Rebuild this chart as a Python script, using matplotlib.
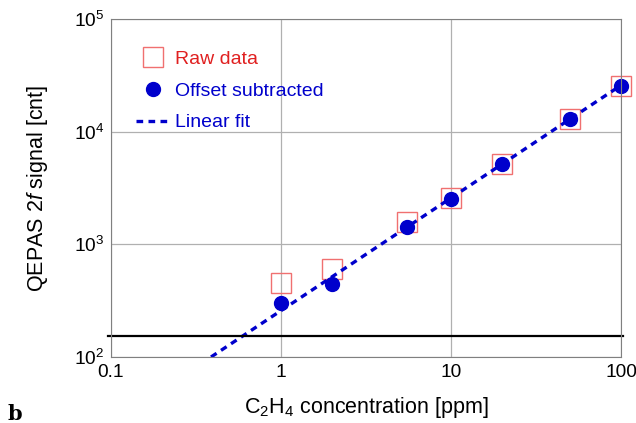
import numpy as np
import matplotlib
matplotlib.use("Agg")
import matplotlib.pyplot as plt
from matplotlib.ticker import FixedLocator, FixedFormatter, NullLocator

plt.rcParams['font.family'] = ['Liberation Sans', 'DejaVu Sans']
plt.rcParams['mathtext.fontset'] = 'custom'
plt.rcParams['mathtext.rm'] = 'Liberation Sans'
plt.rcParams['mathtext.it'] = 'Liberation Sans:italic'

# data
conc = [1, 2, 5.5, 10, 20, 50, 100]
raw = [454, 604, 1578, 2600, 5200, 13000, 25400]
offset_sub = [301, 444, 1424, 2522, 5160, 12940, 25400]
fit_slope = 258.0
noise_level = 153

fig = plt.figure(figsize=(6.36, 4.23), dpi=100)
ax = fig.add_axes([111/636, 1-357/423, 510/636, 338/423])
ax.set_xscale("log")
ax.set_yscale("log")
ax.set_xlim(0.1, 100)
ax.set_ylim(1e2, 1e5)

ax.grid(True, which="major", color="#b0b0b0", lw=0.9)
ax.set_axisbelow(True)

xfit = np.array([0.1, 100])
ax.plot(conc, raw, ls="none", marker="s", ms=14, mfc="none", mec="#f07070",
        mew=1.0, label="Raw data", clip_on=False)
ax.plot(conc, offset_sub, ls="none", marker="o", ms=10, color="#0000cc",
        label="Offset subtracted", clip_on=False)
ax.plot(xfit, fit_slope*xfit, ls=(0, (2, 1.6)), lw=2.4, color="#0000cc",
        label="Linear fit")
ax.axhline(noise_level, xmin=-0.005, xmax=1.004, color="black", lw=1.6, clip_on=False)

ax.xaxis.set_major_locator(FixedLocator([0.1, 1, 10, 100]))
ax.xaxis.set_major_formatter(FixedFormatter(["0.1", "1", "10", "100"]))
ax.xaxis.set_minor_locator(NullLocator())
ax.yaxis.set_minor_locator(NullLocator())
ax.tick_params(length=0, labelsize=13.8, pad=5)
for s in ax.spines.values():
    s.set_color("#808080")

ax.set_xlabel(r"C$_2$H$_4$ concentration [ppm]", fontsize=15.5, labelpad=10)
ax.set_ylabel(r"QEPAS 2$\mathit{f}$ signal [cnt]", fontsize=15.5, labelpad=17)

leg = ax.legend(loc="upper left", frameon=False, fontsize=14, handlelength=1.75,
                handletextpad=0.25, borderaxespad=0.3, labelspacing=0.72,
                bbox_to_anchor=(0.023, 0.947))
for t, c in zip(leg.get_texts(), ["#e02020", "#0000cc", "#0000cc"]):
    t.set_color(c)

fig.text(8/636, 3/423, "b", fontsize=15, fontweight="bold", family="DejaVu Serif")

fig.savefig("out.png", dpi=100)
